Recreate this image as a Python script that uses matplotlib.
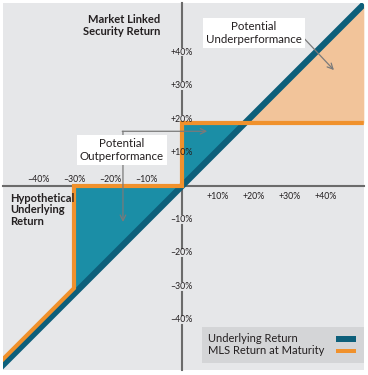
import numpy as np
import matplotlib
matplotlib.use("Agg")
import matplotlib.pyplot as plt
from matplotlib.patches import Rectangle

plt.rcParams['font.family'] = ['Lato', 'DejaVu Sans']

# data (percent)
underlying_x = np.array([-50.5, 50.5])
underlying_y = underlying_x.copy()
barrier = -30
cap = 17.5
gap = 1.6  # orange drawn just above the underlying line so both stay visible
mls_x = np.array([-50.5, barrier, barrier, 0, 0, 50.5])
mls_y = np.array([-50.5 + gap, barrier + gap, 0, 0, cap, cap])

xtick_vals = [-40, -30, -20, -10, 10, 20, 30, 40]
ytick_vals = [40, 30, 20, 10, -10, -20, -30, -40]
y_squeeze = 0.93  # vertical tick spacing is a bit tighter in the original

bg = '#e6e7e9'
dark_teal = '#0d5f7a'
teal = '#1b8ea6'
orange = '#f0912c'
peach = '#f2c49a'
axis_gray = '#6b6b6b'
txt = '#231f20'

px = 3.6  # pixels per percent
fig = plt.figure(figsize=(3.68, 3.75), dpi=100)
ax = fig.add_axes([0, 0, 1, 1])
ax.set_xlim(-182 / px, 186 / px)
ax.set_ylim(-189 / px, 186 / px)
ax.axis('off')

bg_rect = Rectangle((-179 / px, -184 / px), 361 / px, 367 / px,
                    facecolor=bg, edgecolor='none', zorder=0)
ax.add_patch(bg_rect)

# fills
xi = cap  # underlying meets the cap
ax.fill_between([barrier, 0], [barrier, 0], [0, 0], color=teal, lw=0, zorder=2)
ax.fill_between([0, xi], [0, xi], [cap, cap], color=teal, lw=0, zorder=2)
ax.fill_between([xi, 50.5], [xi, 50.5], [cap, cap], color=peach, lw=0, zorder=2)

# axes lines
ax.plot([-179 / px, 182 / px], [0, 0], color=axis_gray, lw=1.5, zorder=1)
ypos = np.array(ytick_vals) * y_squeeze
edges = [-184 / px] + sorted(list(ypos - 1.5) + list(ypos + 1.5)) + [183 / px]
for a, b in zip(edges[0::2], edges[1::2]):
    ax.plot([0, 0], [a, b], color=axis_gray, lw=1.5, zorder=1)

# lines
ln1, = ax.plot(underlying_x, underlying_y, color=dark_teal, lw=4.5,
               solid_capstyle='butt', zorder=3)
ln2, = ax.plot(mls_x, mls_y, color=orange, lw=3, solid_joinstyle='miter',
               solid_capstyle='butt', zorder=4)
ln1.set_clip_path(bg_rect)
ln2.set_clip_path(bg_rect)

# tick labels
for v in xtick_vals:
    lab = f'\u2013{abs(v)}%' if v < 0 else f'+{v}%'
    ax.text(v, 1.9 if v < 0 else -2.9, lab, ha='center', va='center',
            fontsize=6.3, color=txt, zorder=5)
for v, p in zip(ytick_vals, ypos):
    lab = f'\u2013{abs(v)}%' if v < 0 else f'+{v}%'
    ax.text(-0.2, p, lab, ha='center', va='center', fontsize=6.3,
            color=txt, zorder=5)

# axis titles
ax.text(-6.0, 44.7, 'Market Linked\nSecurity Return', ha='right', va='center',
        fontsize=8, fontweight='bold', color=txt, linespacing=1.1, zorder=5)
ax.text(-47.8, -6.6, 'Hypothetical\nUnderlying\nReturn', ha='left', va='center',
        fontsize=8, fontweight='bold', color=txt, linespacing=1.05, zorder=5)

# annotations
arrow_col = '#7a7a7a'
ax.annotate('', xy=(-16.4, -10), xytext=(-16.4, 15.2),
            arrowprops=dict(arrowstyle='->', color=arrow_col, lw=0.9,
                            shrinkA=0, shrinkB=0), zorder=5)
ax.annotate('', xy=(7, 15.2), xytext=(-16.6, 15.2),
            arrowprops=dict(arrowstyle='->', color=arrow_col, lw=0.9,
                            shrinkA=0, shrinkB=0), zorder=5)
ax.text(-16.7, 10, 'Potential\nOutperformance', ha='center', va='center',
        fontsize=8.3, color=txt, linespacing=1.15, zorder=6,
        bbox=dict(boxstyle='square,pad=0.25', facecolor='white', edgecolor='none'))

ax.annotate('', xy=(42.2, 32.2), xytext=(32.5, 42.5),
            arrowprops=dict(arrowstyle='->', color=arrow_col, lw=0.9,
                            shrinkA=0, shrinkB=0), zorder=5)
ax.text(20, 42.5, 'Potential\nUnderperformance', ha='center', va='center',
        fontsize=8.3, color=txt, linespacing=1.15, zorder=6,
        bbox=dict(boxstyle='square,pad=0.25', facecolor='white', edgecolor='none'))

# legend
ax.add_patch(Rectangle((5.6, -49.2), 45, 10, facecolor='#d4d5d7',
                       edgecolor='none', zorder=5))
ax.text(7.2, -42.4, 'Underlying Return', ha='left', va='center',
        fontsize=8, color=txt, zorder=6)
ax.text(7.2, -45.8, 'MLS Return at Maturity', ha='left', va='center',
        fontsize=8, color=txt, zorder=6)
ax.add_patch(Rectangle((42.8, -43.2), 5.6, 1.5, facecolor=dark_teal,
                       edgecolor='none', zorder=6))
ax.add_patch(Rectangle((42.8, -46.4), 5.6, 1.1, facecolor=orange,
                       edgecolor='none', zorder=6))

fig.savefig('out.png', dpi=100, facecolor='white')
